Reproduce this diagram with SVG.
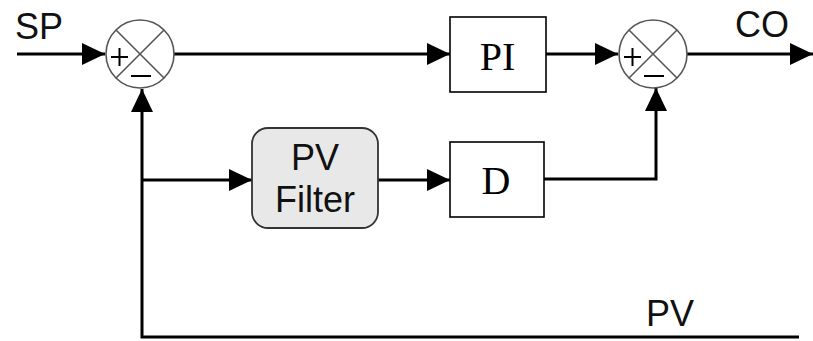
<svg xmlns="http://www.w3.org/2000/svg" width="813" height="341" viewBox="0 0 813 341">
<defs>
<marker id="ah" markerUnits="userSpaceOnUse" markerWidth="23" markerHeight="22" refX="23" refY="11" orient="auto">
<path d="M0,0 L23,11 L0,22 Z" fill="#000"/>
</marker>
<style>
.c{fill:none;stroke:#000;stroke-width:3}
.lbl{font-family:"Liberation Sans",Arial,sans-serif;font-size:36px;fill:#111}
.box{fill:#fff;stroke:#000;stroke-width:1.6}
.mono{font-family:"Liberation Serif","Times New Roman",serif;font-size:40px;fill:#000;text-anchor:middle}
.sum{fill:#fff;stroke:#555;stroke-width:1.6}
.x{stroke:#555;stroke-width:1.6}
.sg{stroke:#000;stroke-width:2}
</style>
</defs>
<rect width="813" height="341" fill="#fff"/>
<g id="connectors">
<path class="c" d="M17,54 H105" marker-end="url(#ah)"/>
<path class="c" d="M174,54 H450" marker-end="url(#ah)"/>
<path class="c" d="M546,54 H618" marker-end="url(#ah)"/>
<path class="c" d="M687,54 H813" marker-end="url(#ah)"/>
<path class="c" d="M799,337 H142 V89" marker-end="url(#ah)"/>
<path class="c" d="M142,180 H252" marker-end="url(#ah)"/>
<path class="c" d="M378,180 H450" marker-end="url(#ah)"/>
<path class="c" d="M544,179 H656 V88" marker-end="url(#ah)"/>
</g>
<g id="sum1">
<circle class="sum" cx="140" cy="54" r="34"/>
<line class="x" x1="116" y1="30" x2="164" y2="78"/>
<line class="x" x1="164" y1="30" x2="116" y2="78"/>
<path class="sg" d="M111,57 H128 M119.5,48 V66"/>
<path class="sg" d="M131,76 H151"/>
</g>
<g id="sum2">
<circle class="sum" cx="653" cy="54" r="34"/>
<line class="x" x1="629" y1="30" x2="677" y2="78"/>
<line class="x" x1="677" y1="30" x2="629" y2="78"/>
<path class="sg" d="M624,57 H641 M632.5,48 V66"/>
<path class="sg" d="M644,76 H664"/>
</g>
<g id="pi">
<rect class="box" x="450" y="17" width="96" height="75"/>
<text class="mono" x="497.5" y="70">PI</text>
</g>
<g id="d">
<rect class="box" x="450" y="142" width="94" height="75"/>
<text class="mono" x="496" y="194">D</text>
</g>
<g id="filter">
<rect x="252" y="128" width="126" height="100" rx="16" fill="#e8e8e8" stroke="#333" stroke-width="1.8"/>
<text class="lbl" x="315" y="170" text-anchor="middle" font-size="35">PV</text>
<text class="lbl" x="315" y="212" text-anchor="middle" font-size="35">Filter</text>
</g>
<g id="labels">
<text class="lbl" x="15" y="39">SP</text>
<text class="lbl" x="735" y="37">CO</text>
<text class="lbl" x="646" y="326">PV</text>
</g>
</svg>
